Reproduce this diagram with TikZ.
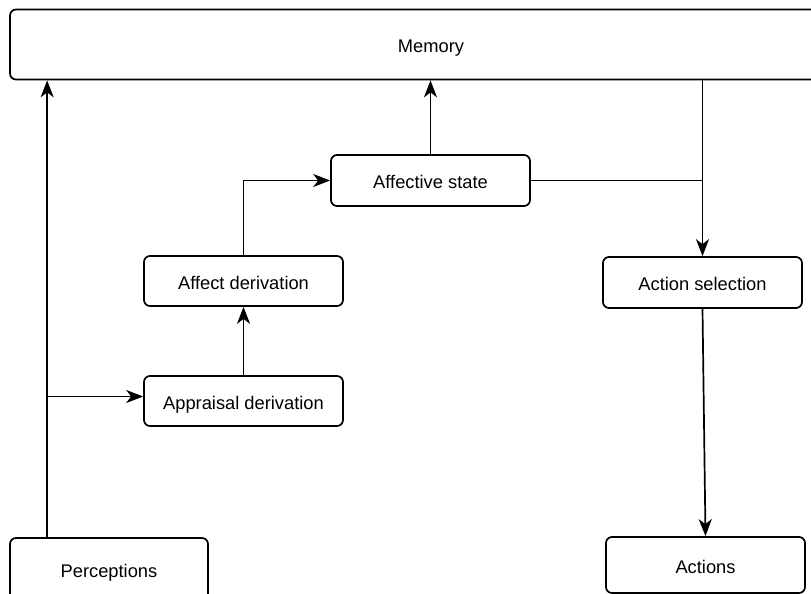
\documentclass[tikz,border=0pt]{standalone}
\usepackage{fontspec}
\setmainfont{Liberation Sans}
\usetikzlibrary{arrows.meta}
\begin{document}
\begin{tikzpicture}[x=1pt,y=-1pt,
  box/.style={draw,line width=1.7pt,rounded corners=6pt,inner sep=0pt,
    text height=16pt,text depth=0pt,
    font=\fontsize{18.3}{22}\selectfont},
  arr/.style={line width=1.7pt,-{Stealth[length=17pt,width=13pt,inset=5pt]}},
  ln/.style={line width=1.7pt}]
\useasboundingbox (0,0) rectangle (811,594);
\node[box,minimum width=842pt,minimum height=70pt] (mem) at (431,44.5) {Memory};
\node[box,minimum width=199pt,minimum height=51pt] (aff) at (430.5,180.5) {Affective state};
\node[box,minimum width=199pt,minimum height=50pt] (der) at (243.5,281) {Affect derivation};
\node[box,minimum width=199pt,minimum height=50pt] (app) at (243.5,401) {Appraisal derivation};
\node[box,minimum width=199pt,minimum height=51pt] (sel) at (702.5,282.5) {Action selection};
\node[box,minimum width=198pt,minimum height=62pt] (perc) at (109,569) {Perceptions};
\node[box,minimum width=199pt,minimum height=56pt] (act) at (705.5,565) {Actions};
% perceptions feed memory and the appraisal
\coordinate (pin) at ([xshift=38pt]perc.north west);
\draw[arr] (pin) -- (pin |- mem.south);
\coordinate (split) at (pin |- 0,396.5);
\draw[arr] (split) -- (app.west |- split);
% appraisal chain
\draw[arr] (app.north) -- (der.south);
\draw[arr] (der.north) |- (aff.west);
\draw[arr] (aff.north) -- (aff.north |- mem.south);
% action side
\coordinate (sel0) at (sel.north |- mem.south);
\draw[arr] (sel0) -- (sel.north);
\draw[ln] (aff.east) -- (sel.north |- aff.east);
\draw[arr] (sel.south) -- (act.north);
\end{tikzpicture}
\end{document}
